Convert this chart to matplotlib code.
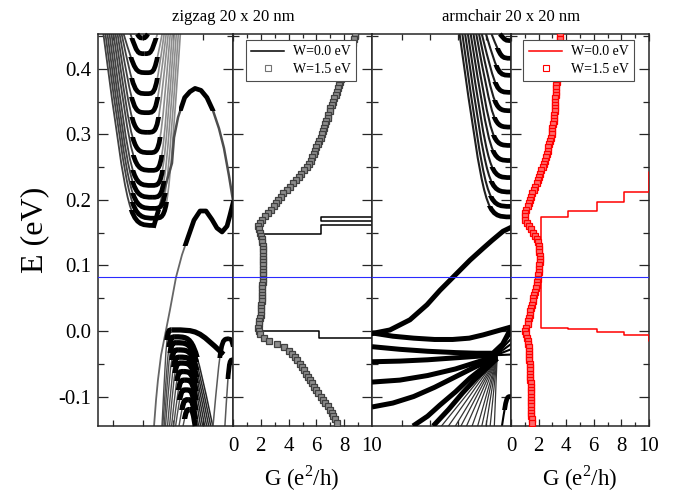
import matplotlib
matplotlib.use('Agg')
import matplotlib.pyplot as plt
from matplotlib.path import Path
from matplotlib.patches import PathPatch, Rectangle
from matplotlib.lines import Line2D
from matplotlib.ticker import MultipleLocator

plt.rcParams['font.family'] = 'serif'
plt.rcParams['font.serif'] = ['Liberation Serif', 'DejaVu Serif']
plt.rcParams['mathtext.fontset'] = 'custom'
plt.rcParams['mathtext.rm'] = 'Liberation Serif'
plt.rcParams['axes.unicode_minus'] = False

"""Limites e nível de Fermi"""
E_top, E_bot = 0.453, -0.145
E_fermi = 0.082

"""Zigzag - bandas de condução (vértice, pé esquerdo e direito no topo)"""
zz_c_E0 = [0.161, 0.172, 0.187, 0.204, 0.222, 0.245, 0.272, 0.303, 0.333, 0.362, 0.394, 0.423, 0.447]
zz_c_k0 = [0.415, 0.422, 0.415, 0.407, 0.400, 0.400, 0.385, 0.370, 0.363, 0.363, 0.363, 0.345, 0.330]
zz_c_kL = [0.040, 0.055, 0.070, 0.085, 0.100, 0.115, 0.130, 0.145, 0.160, 0.175, 0.190, 0.240, 0.290]
zz_c_kR = [0.000, 0.610, 0.595, 0.580, 0.565, 0.550, 0.535, 0.520, 0.505, 0.490, 0.475, 0.440, 0.370]

# lado direito da banda mais baixa (a "corcova" grande)
zz_hump_k = [0.415, 0.459, 0.504, 0.548, 0.563, 0.593, 0.642, 0.681, 0.719, 0.763, 0.807, 0.852, 0.896, 0.933, 0.970, 1.000]
zz_hump_E = [0.161, 0.192, 0.225, 0.256, 0.295, 0.326, 0.356, 0.365, 0.370, 0.367, 0.356, 0.336, 0.309, 0.279, 0.237, 0.199]

# estado de borda (corcova pequena)
zz_edge_k = [0.415, 0.430, 0.444, 0.467, 0.504, 0.533, 0.578, 0.622, 0.667, 0.711, 0.756, 0.800, 0.844, 0.881, 0.919, 0.956, 0.978, 1.000]
zz_edge_E = [-0.145, -0.105, -0.075, -0.037, 0.0015, 0.032, 0.082, 0.116, 0.143, 0.169, 0.183, 0.183, 0.170, 0.157, 0.151, 0.160, 0.177, 0.195]

"""Zigzag - bandas de valência"""
zz_v_E0 = [0.0015, -0.009, -0.018, -0.029, -0.040, -0.049, -0.062, -0.075, -0.090, -0.105, -0.120]
zz_v_k0 = [0.545, 0.570, 0.578, 0.593, 0.607, 0.615, 0.630, 0.644, 0.652, 0.667, 0.680]
zz_v_kL = [0.474, 0.480, 0.490, 0.500, 0.515, 0.530, 0.545, 0.560, 0.575, 0.600, 0.630]
zz_v_kR = [0.930, 0.850, 0.835, 0.820, 0.805, 0.790, 0.775, 0.760, 0.745, 0.730, 0.720]
zz_v_ER = [-0.036, -0.145, -0.145, -0.145, -0.145, -0.145, -0.145, -0.145, -0.145, -0.145, -0.145]

# bolsões perto de k=0 (borda direita)
zz_p_k0 = [0.970, 1.000]
zz_p_E0 = [-0.012, -0.044]
zz_p_kL = [0.852, 0.940]

"""Armchair - bandas"""
ac_s_k = [0.000, 0.022, 0.129, 0.273, 0.396, 0.489, 0.583, 0.705, 0.799, 0.863, 0.942, 1.000]
ac_s_E = [-0.004, -0.003, 0.0015, 0.017, 0.040, 0.062, 0.082, 0.108, 0.126, 0.138, 0.152, 0.158]

ac_c_E0 = [0.174, 0.190, 0.212, 0.234, 0.260, 0.283, 0.311, 0.336, 0.364, 0.390, 0.416, 0.443]
ac_c_kt = [0.63, 0.65, 0.67, 0.69, 0.71, 0.73, 0.75, 0.77, 0.79, 0.82, 0.86, 0.92]

ac_v_k = [
    [0.0, 0.15, 0.3, 0.45, 0.58, 0.7, 0.8, 0.9, 1.0],
    [0.0, 0.2, 0.4, 0.6, 0.75, 0.87, 0.94, 1.0],
    [0.0, 0.2, 0.4, 0.6, 0.8, 0.9],
    [0.0, 0.2, 0.4, 0.6, 0.75, 0.9],
    [0.0, 0.15, 0.3, 0.45, 0.6, 0.75, 0.9],
    [0.295, 0.4, 0.489, 0.6, 0.705, 0.8, 0.9],
    [0.44, 0.55, 0.65, 0.75, 0.9],
]
ac_v_E = [
    [-0.003, -0.008, -0.011, -0.013, -0.013, -0.011, -0.006, 0.0, 0.006],
    [-0.024, -0.028, -0.031, -0.033, -0.034, -0.034, -0.020, 0.004],
    [-0.047, -0.046, -0.044, -0.041, -0.038, -0.036],
    [-0.078, -0.075, -0.068, -0.058, -0.048, -0.038],
    [-0.116, -0.110, -0.100, -0.086, -0.070, -0.054, -0.040],
    [-0.145, -0.130, -0.113, -0.093, -0.072, -0.056, -0.042],
    [-0.145, -0.120, -0.095, -0.072, -0.042],
]
ac_fan_kb = [0.50, 0.55, 0.60, 0.64, 0.68, 0.72, 0.76, 0.79, 0.82, 0.85, 0.88]
ac_fan_kc, ac_fan_Ec = 0.90, -0.040
ac_tri_E = [0.004, -0.004, -0.012, -0.020, -0.028, -0.036]
ac_p_kL, ac_p_E0 = 0.935, -0.100

"""Condutância - degraus sem desordem"""
zz_W0_G = [12, 6.2, 6.2, 2.1, 2.1, 6.3, 6.3, 12, 12, 6.3, 6.3, 12]
zz_W0_E = [-0.011, -0.011, 0.0, 0.0, 0.148, 0.148, 0.161, 0.161, 0.168, 0.168, 0.174, 0.174]
ac_W0_G = [12, 10, 10, 8.2, 8.2, 6.2, 6.2, 4.1, 4.1, 2.15, 2.15, 4.1, 4.1, 6.2, 6.2, 8.2, 8.2, 10, 10, 12]
ac_W0_E = [-0.016, -0.016, -0.006, -0.006, -0.002, -0.002, 0.003, 0.003, 0.005, 0.005,
           0.174, 0.174, 0.183, 0.183, 0.196, 0.196, 0.212, 0.212, 0.243, 0.243]

"""Condutância com desordem W=1.5 eV"""
E_dis = [0.450, 0.445, 0.440, 0.435, 0.430, 0.425, 0.420, 0.415, 0.410, 0.405,
         0.400, 0.395, 0.390, 0.385, 0.380, 0.375, 0.370, 0.365, 0.360, 0.355,
         0.350, 0.345, 0.340, 0.335, 0.330, 0.325, 0.320, 0.315, 0.310, 0.305,
         0.300, 0.295, 0.290, 0.285, 0.280, 0.275, 0.270, 0.265, 0.260, 0.255,
         0.250, 0.245, 0.240, 0.235, 0.230, 0.225, 0.220, 0.215, 0.210, 0.205,
         0.200, 0.195, 0.190, 0.185, 0.180, 0.175, 0.170, 0.165, 0.160, 0.155,
         0.150, 0.145, 0.140, 0.135, 0.130, 0.125, 0.120, 0.115, 0.110, 0.105,
         0.100, 0.095, 0.090, 0.085, 0.080, 0.075, 0.070, 0.065, 0.060, 0.055,
         0.050, 0.045, 0.040, 0.035, 0.030, 0.025, 0.020, 0.015, 0.010, 0.005,
         0.000, -0.005, -0.010, -0.015, -0.020, -0.025, -0.030, -0.035, -0.040, -0.045,
         -0.050, -0.055, -0.060, -0.065, -0.070, -0.075, -0.080, -0.085, -0.090, -0.095,
         -0.100, -0.105, -0.110, -0.115, -0.120, -0.125, -0.130, -0.135, -0.140]
zz_W15_G = [8.8, 8.7, 8.6, 8.55, 8.5, 8.4, 8.3, 8.25, 8.2, 8.1,
            8.0, 7.95, 7.85, 7.8, 7.7, 7.6, 7.55, 7.5, 7.4, 7.3,
            7.2, 7.1, 7.0, 6.95, 6.85, 6.8, 6.7, 6.6, 6.55, 6.5,
            6.4, 6.3, 6.2, 6.1, 6.0, 5.9, 5.8, 5.7, 5.6, 5.45,
            5.3, 5.1, 4.9, 4.75, 4.55, 4.35, 4.1, 3.85, 3.6, 3.45,
            3.25, 3.1, 2.95, 2.75, 2.55, 2.3, 2.1, 1.95, 1.8, 1.85,
            1.95, 2.05, 2.1, 2.12, 2.15, 2.15, 2.15, 2.15, 2.15, 2.15,
            2.15, 2.15, 2.15, 2.15, 2.15, 2.14, 2.12, 2.11, 2.1, 2.09,
            2.08, 2.06, 2.05, 2.02, 2.0, 1.98, 1.95, 1.9, 1.85, 1.8,
            1.85, 1.95, 2.2, 2.6, 3.2, 3.65, 4.0, 4.25, 4.45, 4.6,
            4.8, 4.95, 5.1, 5.25, 5.4, 5.55, 5.65, 5.8, 5.95, 6.1,
            6.3, 6.45, 6.65, 6.8, 6.95, 7.1, 7.2, 7.35, 7.45]
ac_W15_G = [3.55, 3.52, 3.5, 3.48, 3.46, 3.45, 3.45, 3.42, 3.4, 3.38,
            3.35, 3.32, 3.3, 3.3, 3.3, 3.27, 3.25, 3.25, 3.25, 3.22,
            3.2, 3.2, 3.2, 3.18, 3.15, 3.12, 3.1, 3.05, 3.0, 2.97,
            2.95, 2.9, 2.85, 2.78, 2.7, 2.65, 2.6, 2.52, 2.45, 2.38,
            2.3, 2.2, 2.1, 2.02, 1.95, 1.85, 1.75, 1.65, 1.55, 1.45,
            1.35, 1.27, 1.2, 1.12, 1.05, 1.0, 1.05, 1.15, 1.3, 1.45,
            1.6, 1.72, 1.85, 1.93, 2.0, 2.03, 2.05, 2.08, 2.1, 2.08,
            2.05, 2.02, 2.0, 1.98, 1.95, 1.9, 1.85, 1.8, 1.75, 1.68,
            1.62, 1.56, 1.5, 1.45, 1.4, 1.35, 1.3, 1.25, 1.2, 1.12,
            1.05, 1.1, 1.15, 1.2, 1.25, 1.28, 1.3, 1.31, 1.32, 1.34,
            1.35, 1.37, 1.38, 1.39, 1.4, 1.41, 1.42, 1.42, 1.43, 1.43,
            1.44, 1.44, 1.45, 1.45, 1.46, 1.47, 1.48, 1.49, 1.5]


def clip_rect(ax, lo, hi, k0=-0.1, k1=1.1):
    return Rectangle((k0, lo), k1 - k0, hi - lo, transform=ax.transData)


def half_band(ax, k0, E0, k1, E1, color='0.3', lw=1.0, h=0.015, thick=3.4):
    '''meia banda: do vértice (k0,E0) até a ponta (k1,E1)'''
    kc = k0 + 0.5*(k1 - k0)
    path = Path([(k0, E0), (kc, E0), (kc, E0), (k1, E1)],
                [Path.MOVETO, Path.CURVE4, Path.CURVE4, Path.CURVE4])
    ax.add_patch(PathPatch(path, fc='none', ec=color, lw=lw, zorder=2))
    if h > 0:
        p = PathPatch(path, fc='none', ec='black', lw=thick, zorder=3)
        ax.add_patch(p)
        if E1 > E0:
            p.set_clip_path(clip_rect(ax, E0 - 0.02, E0 + h))
        else:
            p.set_clip_path(clip_rect(ax, E0 - h, E0 + 0.02))


W, H = 689, 493
edges = [98, 233, 372, 511, 649]
top_px, bot_px = 34, 426
fig = plt.figure(figsize=(W/100, H/100), dpi=100)
axes = []
for i in range(4):
    axes.append(fig.add_axes([edges[i]/W, (H - bot_px)/H, (edges[i+1] - edges[i])/W, (bot_px - top_px)/H]))
ax1, ax2, ax3, ax4 = axes

'''Painel 1: bandas zigzag'''
for i in range(len(zz_c_E0)):
    half_band(ax1, zz_c_k0[i], zz_c_E0[i], zz_c_kL[i], E_top, color='0.25', lw=1.3, h=0.024)
    if i > 0:
        half_band(ax1, zz_c_k0[i], zz_c_E0[i], zz_c_kR[i], E_top, color='0.55', lw=1.2, h=0.024)
ax1.plot(zz_hump_k, zz_hump_E, color='0.3', lw=1.8, zorder=2)
l, = ax1.plot(zz_hump_k, zz_hump_E, color='black', lw=3.4, zorder=3)
l.set_clip_path(clip_rect(ax1, 0.335, 0.4, 0.6, 0.9))
l, = ax1.plot(zz_hump_k[:3], zz_hump_E[:3], color='black', lw=3.4, zorder=3)
l.set_clip_path(clip_rect(ax1, 0.15, 0.185))

ax1.plot(zz_edge_k, zz_edge_E, color='0.4', lw=1.3, zorder=2)
l, = ax1.plot(zz_edge_k, zz_edge_E, color='black', lw=3.4, zorder=3)
l.set_clip_path(clip_rect(ax1, 0.13, 0.25, 0.62, 1.1))

for i in range(len(zz_v_E0)):
    half_band(ax1, zz_v_k0[i], zz_v_E0[i], zz_v_kL[i], E_bot, color='0.3', lw=1.0, h=0.015, thick=3.8)
    half_band(ax1, zz_v_k0[i], zz_v_E0[i], zz_v_kR[i], zz_v_ER[i], color='0.15', lw=1.1,
              h=0.04 if i == 0 else 0.03, thick=3.8)
for i in range(len(zz_p_k0)):
    half_band(ax1, zz_p_k0[i], zz_p_E0[i], zz_p_kL[i], E_bot, color='0.35', lw=1.1, h=0.03)
half_band(ax1, zz_p_k0[0], zz_p_E0[0], 1.0, -0.024, color='black', lw=3.0, h=0)

'''Painel 3: bandas armchair'''
ax3.plot(ac_s_k, ac_s_E, color='black', lw=3.6, zorder=3)
for i in range(len(ac_c_E0)):
    half_band(ax3, 1.0, ac_c_E0[i], ac_c_kt[i], E_top, color='0.12', lw=1.5, h=0.016)
for kb in ac_fan_kb:
    ax3.plot([kb, ac_fan_kc], [E_bot, ac_fan_Ec], color='0.2', lw=0.9, zorder=2)
for e in ac_tri_E:
    ax3.plot([ac_fan_kc - 0.01, 1.0], [ac_fan_Ec + 0.003, e], color='black', lw=1.5, zorder=3)
for i in range(len(ac_v_k)):
    ax3.plot(ac_v_k[i], ac_v_E[i], color='black', lw=3.6, zorder=3, solid_capstyle='butt')
half_band(ax3, 1.0, ac_p_E0, ac_p_kL, E_bot, color='black', lw=1.5, h=0.02)

'''Painel 2 e 4: condutância'''
ax2.plot(zz_W0_G, zz_W0_E, color='black', lw=1.1, zorder=3)
ax2.plot(zz_W15_G, E_dis, ls='none', marker='s', ms=4.2, mfc='0.55', mec='0.25', mew=0.9, zorder=4)
ax4.plot(ac_W0_G, ac_W0_E, color='red', lw=1.1, zorder=3)
ax4.plot(ac_W15_G, E_dis, ls='none', marker='s', ms=4.2, mfc='#ff6a6a', mec='red', mew=0.9, zorder=4)

for ax in axes:
    ax.axhline(E_fermi, color='#2b2bff', lw=0.8, zorder=6)
    ax.set_ylim(E_bot, E_top)
    ax.yaxis.set_major_locator(MultipleLocator(0.1))
    ax.yaxis.set_minor_locator(MultipleLocator(0.05))
    ax.tick_params(axis='both', which='both', direction='in', top=True, right=True,
                   width=0.9, color='0.15')
    ax.tick_params(axis='y', which='major', length=7)
    ax.tick_params(axis='y', which='minor', length=4)
    for s in ax.spines.values():
        s.set_linewidth(1.1)
        s.set_color('0.15')
    if ax is not ax1:
        ax.tick_params(axis='y', labelleft=False)

ax1.set_yticks([-0.1, 0.0, 0.1, 0.2, 0.3, 0.4])
ax1.set_yticklabels(['-0.1', '0.0', '0.1', '0.2', '0.3', '0.4'])
ax1.tick_params(axis='y', labelsize=15, pad=5)

ax1.set_xlim(0, 1)
ax1.set_xticks([0.111, 0.333, 0.556, 0.778])
ax3.set_xlim(0, 1)
ax3.set_xticks([0.216, 0.417, 0.619, 0.82])
for ax in (ax1, ax3):
    ax.tick_params(axis='x', which='major', length=4, labelbottom=False)

for ax in (ax2, ax4):
    ax.set_xlim(0, 10)
    ax.xaxis.set_major_locator(MultipleLocator(2))
    ax.xaxis.set_minor_locator(MultipleLocator(1))
    ax.tick_params(axis='x', which='major', length=5, labelsize=15, pad=8)
    ax.tick_params(axis='x', which='minor', length=3)

'''Legendas'''
h2 = [Line2D([], [], color='black', lw=1.1),
      Line2D([], [], ls='none', marker='s', ms=4, mfc='white', mec='0.45', mew=0.8)]
h4 = [Line2D([], [], color='red', lw=1.1),
      Line2D([], [], ls='none', marker='s', ms=4, mfc='white', mec='red', mew=0.8)]
for ax, hh in ((ax2, h2), (ax4, h4)):
    leg = ax.legend(hh, ['W=0.0 eV', 'W=1.5 eV'], loc='upper left', bbox_to_anchor=(0.09, 0.985),
                    fontsize=10, frameon=True, fancybox=False, framealpha=1, edgecolor='0.3',
                    handlelength=2.4, handletextpad=0.6, borderpad=0.4, labelspacing=0.3,
                    borderaxespad=0)
    leg.get_frame().set_linewidth(0.8)
    leg.set_zorder(10)

'''Textos'''
fig.text(233/W, 1 - 17/H, 'zigzag 20 x 20 nm', ha='center', va='center', fontsize=12)
fig.text(511/W, 1 - 17/H, 'armchair 20 x 20 nm', ha='center', va='center', fontsize=12)
fig.text(35/W, 1 - 230/H, 'E (eV)', ha='center', va='center', rotation=90, fontsize=23)
fig.text(302/W, 1 - 478/H, r'G (e$^\mathregular{2}$/h)', ha='center', va='center', fontsize=16.5)
fig.text(580/W, 1 - 478/H, r'G (e$^\mathregular{2}$/h)', ha='center', va='center', fontsize=16.5)

fig.savefig('out.png', dpi=100)
